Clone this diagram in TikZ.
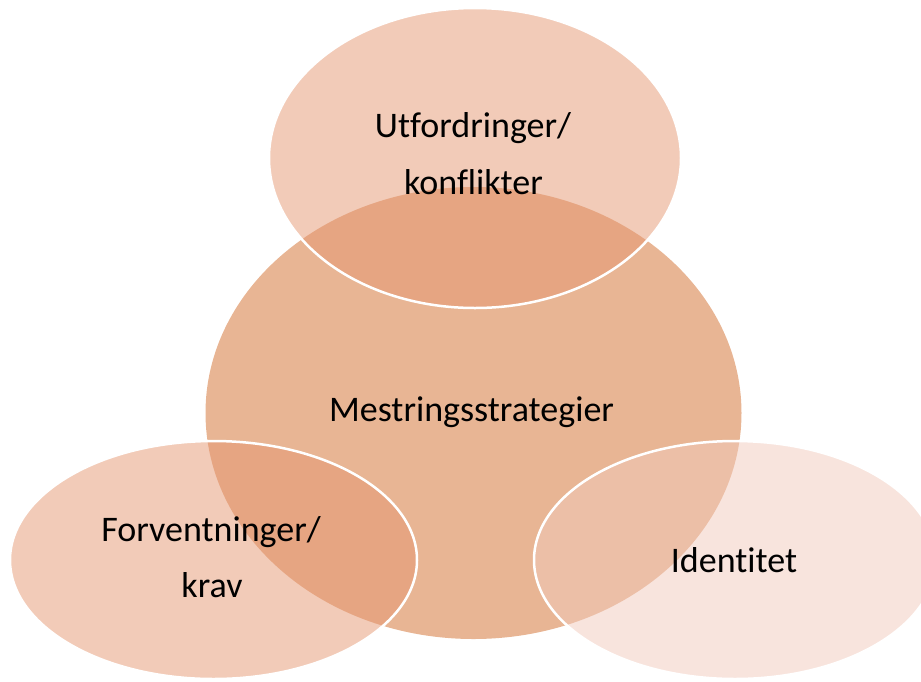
\documentclass[tikz,border=0pt]{standalone}
\usepackage{fontspec}
\setmainfont[Ligatures={NoCommon}]{Carlito}
\usetikzlibrary{shapes.geometric}
\definecolor{coreC}{RGB}{232,181,148}
\definecolor{petalC}{RGB}{229,151,113}
\definecolor{lightC}{RGB}{241,201,187}
\begin{document}
\begin{tikzpicture}[x=1pt,y=-1pt,
  blob/.style={ellipse, inner sep=0pt, draw=white, line width=2.5pt, fill opacity=0.5, draw opacity=1},
  lbl/.style={anchor=base, inner sep=0pt, font=\fontsize{36}{44}\selectfont, text=black}]
\useasboundingbox (0,0) rectangle (921,681);
\node[ellipse, inner sep=0pt, minimum width=536pt, minimum height=452pt, fill=coreC] (core) at (473.5,413) {};
\node[blob, fill=petalC, minimum width=412pt, minimum height=300pt] (top) at (475,158) {};
\node[blob, fill=petalC, minimum width=407pt, minimum height=238pt] (left) at (213.5,560) {};
\node[blob, fill=lightC, minimum width=402pt, minimum height=238pt] (right) at (735,560) {};
\node[lbl] (t1) at (473,137) {Utfordringer/};
\node[lbl] (t2) at (473.5,194) {konflikter};
\node[lbl] (tm) at (471.5,421) {Mestringsstrategier};
\node[lbl] (tl1) at (211,541) {Forventninger/};
\node[lbl] (tl2) at (212,597) {krav};
\node[lbl] (tr) at (734,572) {Identitet};
\end{tikzpicture}
\end{document}
